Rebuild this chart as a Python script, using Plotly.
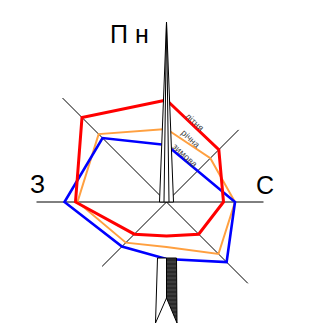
import numpy as np
import plotly.graph_objects as go

# wind directions, clockwise from north
directions = ["Пн", "ПнС", "С", "ПдС", "Пд", "ПдЗ", "З", "ПнЗ"]
angles = [0, 45, 90, 135, 180, 225, 270, 315]

summer = [102, 74, 57, 45.5, 34, 45.5, 91, 119.5]   # літня
annual = [73, 62, 68.5, 73.5, 45, 57.5, 89, 96]     # річна
winter = [57, 44, 68.5, 85, 57, 63, 102, 90.5]      # зимова

# length of each axis arm (N and S are covered by the needles)
arm_len = [0, 102, 97, 115, 0, 91, 130, 147]


def to_xy(r, deg):
    a = np.radians(deg)
    return r * np.sin(a), r * np.cos(a)


fig = go.Figure()

# -----------------------------
# axis arms
# -----------------------------
for ang, ln in zip(angles, arm_len):
    if ln == 0:
        continue
    x, y = to_xy(ln, ang)
    fig.add_trace(
        go.Scatter(
            x=[0, x], y=[0, y], mode="lines",
            line=dict(color="black", width=1), showlegend=False, hoverinfo="skip",
        )
    )

# -----------------------------
# rose polygons
# -----------------------------
series = [
    ("річна", annual, "#FFA040", 2),
    ("зимова", winter, "#0000FF", 2.6),
    ("літня", summer, "#FF0000", 3),
]
for name, vals, color, width in series:
    xs, ys = to_xy(np.array(vals + vals[:1]), np.array(angles + angles[:1]))
    fig.add_trace(
        go.Scatter(
            x=xs, y=ys, mode="lines", name=name,
            line=dict(color=color, width=width), showlegend=False,
        )
    )

# -----------------------------
# north needle
# -----------------------------
fig.add_trace(
    go.Scatter(
        x=[-7, 0, 7, -7], y=[0, 180, 0, 0], mode="lines", fill="toself",
        fillcolor="white", line=dict(color="black", width=1),
        showlegend=False, hoverinfo="skip",
    )
)
fig.add_trace(
    go.Scatter(
        x=[-2.5, 0, 2.5], y=[0, 180, 0], mode="lines",
        line=dict(color="black", width=1), showlegend=False, hoverinfo="skip",
    )
)

# -----------------------------
# south needle
# -----------------------------
fig.add_trace(
    go.Scatter(
        x=[-9, -11, 0, 0, -9], y=[-56, -121, -96, -56, -56], mode="lines",
        fill="toself", fillcolor="white", line=dict(color="black", width=1),
        showlegend=False, hoverinfo="skip",
    )
)
fig.add_trace(
    go.Scatter(
        x=[0, 0, 10.5, 10, 0], y=[-56, -96, -121, -56, -56], mode="lines",
        fill="toself", fillcolor="#3a3a3a",
        fillpattern=dict(shape="-", bgcolor="#2a2a2a", fgcolor="#666666", size=4, solidity=0.3),
        line=dict(color="black", width=1), showlegend=False, hoverinfo="skip",
    )
)

# -----------------------------
# labels
# -----------------------------
big = dict(family="Liberation Sans, Arial", size=25, color="black")
fig.add_annotation(x=-37, y=168, text="П н", showarrow=False, font=big)
fig.add_annotation(x=-129, y=18, text="З", showarrow=False, font=big)
fig.add_annotation(x=98, y=17, text="С", showarrow=False, font=big)

small = dict(family="Liberation Sans, Arial", size=9, color="#444444")
for txt, (lx, ly) in zip(["літня", "річна", "зимова"], [(28, 80), (24.5, 63.5), (18, 47)]):
    fig.add_annotation(x=lx, y=ly, text=txt, showarrow=False, textangle=43, font=small)

# page body adds an 8px offset, so the centre sits at (158, 194) inside the plot
fig.update_layout(
    width=322,
    height=335,
    margin=dict(l=0, r=0, t=0, b=0),
    paper_bgcolor="white",
    plot_bgcolor="white",
    xaxis=dict(range=[-158.5, 163.5], visible=False, fixedrange=True),
    yaxis=dict(range=[-141, 194], visible=False, fixedrange=True),
)

fig.write_html("out.html")
